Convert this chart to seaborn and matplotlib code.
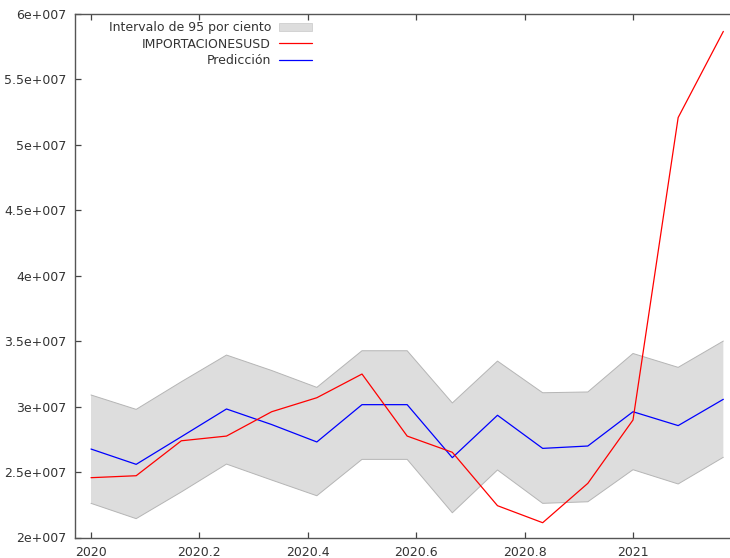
import numpy as np
import pandas as pd
import matplotlib
matplotlib.use("Agg")
import matplotlib.pyplot as plt
import seaborn as sns
from matplotlib.patches import Patch
from matplotlib.lines import Line2D

# monthly observations, 2020:01 .. 2021:03 (gretl decimal dates)
months = list(range(15))
fechas = [2020 + m / 12 for m in months]

importaciones = [24.57, 24.72, 27.39, 27.75, 29.61, 30.68, 32.49, 27.75, 26.51,
                 22.43, 21.13, 24.14, 28.98, 52.09, 58.67]
prediccion = [26.76, 25.59, 27.70, 29.82, 28.63, 27.30, 30.15, 30.15, 26.10,
              29.34, 26.81, 26.99, 29.61, 28.55, 30.56]
superior = [30.89, 29.79, 31.90, 33.94, 32.76, 31.47, 34.27, 34.27, 30.28,
            33.48, 31.06, 31.12, 34.06, 33.00, 35.01]
inferior = [22.61, 21.44, 23.48, 25.61, 24.39, 23.19, 25.97, 25.97, 21.89,
            25.16, 22.61, 22.73, 25.18, 24.09, 26.13]

xticks = [2020, 2020.2, 2020.4, 2020.6, 2020.8, 2021]
xticklabels = ["2020", "2020.2", "2020.4", "2020.6", "2020.8", "2021"]
yticks = [20, 25, 30, 35, 40, 45, 50, 55, 60]
yticklabels = ["2e+007", "2.5e+007", "3e+007", "3.5e+007", "4e+007",
               "4.5e+007", "5e+007", "5.5e+007", "6e+007"]

df = pd.DataFrame({
    "fecha": fechas,
    "IMPORTACIONESUSD": np.array(importaciones) * 1e6,
    "Predicción": np.array(prediccion) * 1e6,
    "sup": np.array(superior) * 1e6,
    "inf": np.array(inferior) * 1e6,
})

sns.set_style("white")
plt.rcParams["font.family"] = ["DejaVu Sans"]
txt = "#333333"

fig = plt.figure(figsize=(7.3, 5.58), dpi=100)
ax = fig.add_axes([75 / 730, (558 - 537.5) / 558, (729 - 75) / 730, (537.5 - 14) / 558])

ax.fill_between(df["fecha"], df["inf"], df["sup"], facecolor="#dddddd",
                edgecolor="none", lw=0, zorder=1)
sns.lineplot(data=df, x="fecha", y="sup", color="#b5b5b5", lw=0.7, ax=ax, zorder=1.5)
sns.lineplot(data=df, x="fecha", y="inf", color="#b5b5b5", lw=0.7, ax=ax, zorder=1.5)
sns.lineplot(data=df, x="fecha", y="IMPORTACIONESUSD", color="#ff0000", lw=0.9, ax=ax, zorder=3)
sns.lineplot(data=df, x="fecha", y="Predicción", color="#0000ff", lw=0.9, ax=ax, zorder=2.5)

ax.set_xlim(2020 - 16 / 542, 2020 + 638 / 542)
ax.set_ylim(20e6, 60e6)
ax.set_xticks(xticks)
ax.set_xticklabels(xticklabels)
ax.set_yticks([v * 1e6 for v in yticks])
ax.set_yticklabels(yticklabels)
ax.set_xlabel("")
ax.set_ylabel("")

for s in ax.spines.values():
    s.set_visible(True)
    s.set_color("#555555")
    s.set_linewidth(1.0)
ax.spines["right"].set_visible(False)
ax.tick_params(direction="in", length=4, width=0.9, colors="#444444",
               labelcolor=txt, labelsize=9, top=True, right=False,
               bottom=True, left=True, pad=6)

handles = [
    Patch(facecolor="#dddddd", edgecolor="#c8c8c8", lw=0.5),
    Line2D([], [], color="#ff0000", lw=0.9),
    Line2D([], [], color="#0000ff", lw=0.9),
]
labels = ["Intervalo de 95 por ciento", "IMPORTACIONESUSD", "Predicción"]
leg = ax.legend(handles, labels, loc="upper left", bbox_to_anchor=(0.04, 1.0),
                frameon=False, markerfirst=False, fontsize=9, handlelength=2.7,
                handleheight=0.6, handletextpad=0.6, labelspacing=0.25,
                borderaxespad=0.2)
for t in leg.get_texts():
    t.set_color(txt)

fig.savefig("out.png", dpi=100)
